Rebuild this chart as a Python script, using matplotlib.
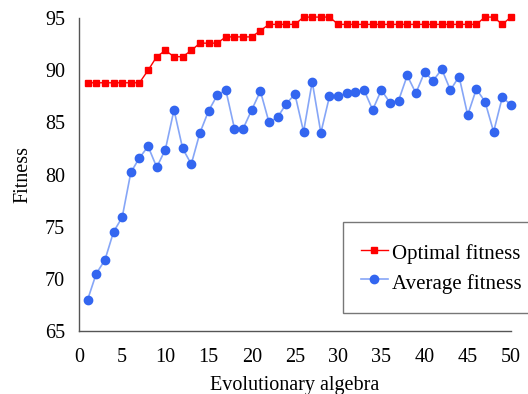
import matplotlib
matplotlib.use('Agg')
import matplotlib.pyplot as plt
import numpy as np

generations = list(range(1, 51))

optimal_fitness = [88.8, 88.8, 88.8, 88.8, 88.8, 88.8, 88.8, 90.0, 91.3, 91.9,
                   91.3, 91.3, 91.9, 92.6, 92.6, 92.6, 93.2, 93.2, 93.2, 93.2,
                   93.8, 94.4, 94.4, 94.4, 94.4, 95.1, 95.1, 95.1, 95.1, 94.4,
                   94.4, 94.4, 94.4, 94.4, 94.4, 94.4, 94.4, 94.4, 94.4, 94.4,
                   94.4, 94.4, 94.4, 94.4, 94.4, 94.4, 95.1, 95.1, 94.4, 95.1]

average_fitness = [68.0, 70.5, 71.8, 74.5, 75.9, 80.2, 81.6, 82.7, 80.7, 82.4,
                   86.2, 82.5, 81.0, 84.0, 86.1, 87.6, 88.1, 84.4, 84.4, 86.2,
                   88.0, 85.0, 85.5, 86.8, 87.7, 84.1, 88.9, 84.0, 87.5, 87.5,
                   87.8, 87.9, 88.1, 86.2, 88.1, 86.9, 87.1, 89.5, 87.8, 89.8,
                   89.0, 90.1, 88.1, 89.4, 85.7, 88.2, 87.0, 84.1, 87.4, 86.7]

plt.rcParams['font.family'] = ['Liberation Serif', 'DejaVu Serif']
plt.rcParams['font.size'] = 14.5

fig = plt.figure(figsize=(5.28, 3.94), dpi=100)
ax = fig.add_axes([0.1496, 0.160, 0.818, 0.794])

ax.plot(generations, optimal_fitness, color='#ff0000', marker='s', markersize=4.5,
        linewidth=1, label='Optimal fitness', clip_on=False, zorder=3)
ax.plot(generations, average_fitness, color='#86a6f7', marker='o', markersize=6,
        markerfacecolor='#3366f0', markeredgecolor='#3366f0',
        linewidth=1.2, label='Average fitness', clip_on=False, zorder=3)

ax.set_xlim(0, 50)
ax.set_ylim(65, 95)
ax.set_xticks(np.arange(0, 51, 5))
ax.set_yticks(np.arange(65, 96, 5))
ax.tick_params(axis='y', length=0, pad=10)
ax.tick_params(axis='x', length=0, pad=12)

for side in ['top', 'right']:
    ax.spines[side].set_visible(False)
for side in ['left', 'bottom']:
    ax.spines[side].set_color('#555555')
    ax.spines[side].set_linewidth(1)

ax.set_xlabel('Evolutionary algebra', labelpad=7)
ax.set_ylabel('Fitness', labelpad=9)

leg = ax.legend(loc='upper left', bbox_to_anchor=(0.611, 0.348), fancybox=False,
                edgecolor='#777777', framealpha=1, fontsize=15, handlelength=1.3,
                handleheight=1.5, handletextpad=0.2, borderpad=0.85,
                labelspacing=0.2, borderaxespad=0)
leg.get_frame().set_linewidth(1)
leg.set_clip_on(False)

fig.savefig('out.png', dpi=100)
